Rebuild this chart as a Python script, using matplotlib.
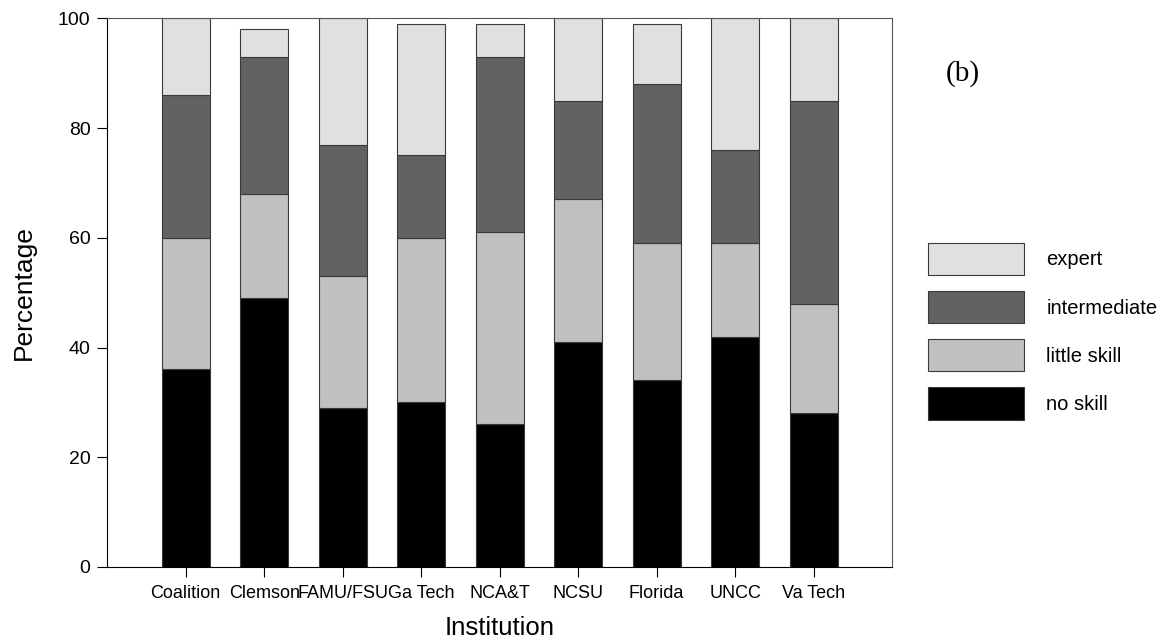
import numpy as np
import matplotlib
matplotlib.use('Agg')
from matplotlib import pyplot as plt

institutions = ['Coalition', 'Clemson', 'FAMU/FSU', 'Ga Tech', 'NCA&T',
                'NCSU', 'Florida', 'UNCC', 'Va Tech']
no_skill = [36, 49, 29, 30, 26, 41, 34, 42, 28]
little_skill = [24, 19, 24, 30, 35, 26, 25, 17, 20]
intermediate = [26, 25, 24, 15, 32, 18, 29, 17, 37]
expert = [14, 5, 23, 24, 6, 15, 11, 24, 15]

levels = ['no skill', 'little skill', 'intermediate', 'expert']
colors = ['#000000', '#c0c0c0', '#626262', '#e0e0e0']

plt.rcParams['font.family'] = ['Liberation Sans', 'DejaVu Sans']

fig = plt.figure(figsize=(11.67, 6.43), dpi=100)
ax = fig.add_axes([0.0919, 0.1182, 0.6725, 0.8533])

x = np.arange(len(institutions))
bottom = np.zeros(len(institutions))
handles = []
for vals, lab, c in zip([no_skill, little_skill, intermediate, expert], levels, colors):
    b = ax.bar(x, vals, 0.61, bottom=bottom, color=c, edgecolor='#3a3a3a',
               linewidth=0.8, label=lab)
    handles.append(b)
    bottom += np.array(vals)

ax.set_xlim(-1, len(institutions))
ax.set_ylim(0, 100)
ax.set_yticks([0, 20, 40, 60, 80, 100])
ax.set_xticks(x)
ax.set_xticklabels(institutions, fontsize=13)
ax.tick_params(axis='y', labelsize=14, direction='out', length=7, pad=5)
ax.tick_params(axis='x', direction='out', length=7, pad=6)
for s in ['top', 'right']:
    ax.spines[s].set_color('#555555')
ax.set_xlabel('Institution', fontsize=18.5, labelpad=10)
ax.set_ylabel('Percentage', fontsize=19, labelpad=16)

leg = fig.legend(handles[::-1], levels[::-1], loc='upper left',
                 bbox_to_anchor=(0.795, 0.622), frameon=False, fontsize=14.5,
                 handlelength=4.78, handleheight=2.07, handletextpad=1.1,
                 labelspacing=0.8, borderpad=0, borderaxespad=0)

fig.text(0.825, 0.885, '(b)', fontsize=21, family='Liberation Serif',
         ha='center', va='center')

plt.savefig('out.png')
